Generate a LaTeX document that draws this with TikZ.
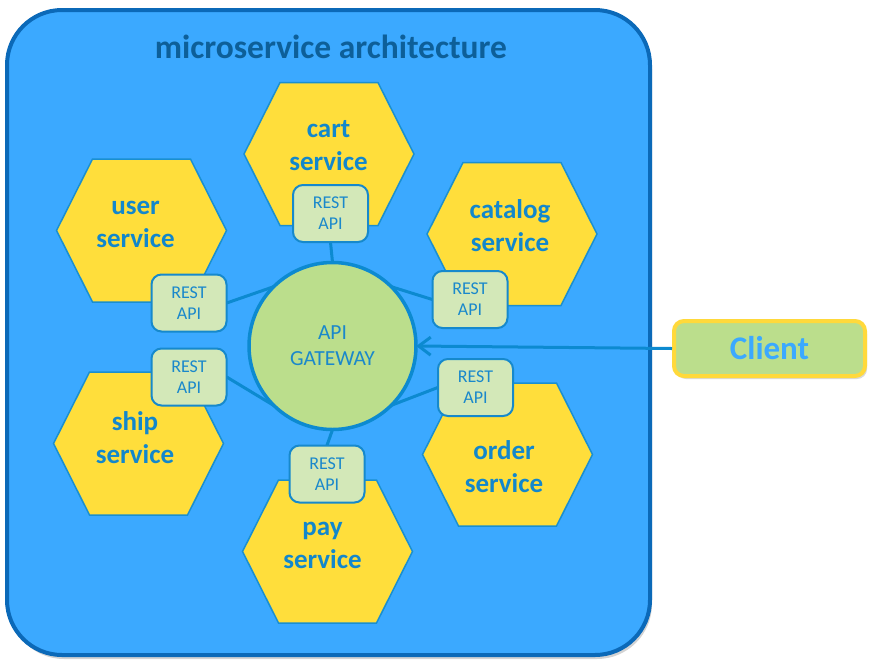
\documentclass[tikz,border=0pt]{standalone}
\usepackage{fontspec}
\setmainfont{Carlito}
\usetikzlibrary{shadows,arrows.meta}
\definecolor{bgblue}{HTML}{3BA9FF}
\definecolor{frameblue}{HTML}{0B69B8}
\definecolor{titleblue}{HTML}{0D5F99}
\definecolor{hexyellow}{HTML}{FFDE3B}
\definecolor{hexline}{HTML}{1A8FD0}
\definecolor{svctext}{HTML}{1287CC}
\definecolor{restfill}{HTML}{D3E8B8}
\definecolor{restline}{HTML}{1689CC}
\definecolor{resttext}{HTML}{1A88CB}
\definecolor{gwfill}{HTML}{BBDE8C}
\definecolor{linkblue}{HTML}{0C8AD0}
\definecolor{clientborder}{HTML}{FFD93B}
\tikzset{
  hexshape/.style={fill=hexyellow, draw=hexline, line width=1.5pt, line join=miter},
  hexa/.pic={\path[hexshape] (-85,0) -- (-49,-71.5) -- (49,-71.5) -- (85,0) -- (49,71.5) -- (-49,71.5) -- cycle;},
  hexlabel/.style={font=\fontsize{27}{33}\selectfont\bfseries, text=svctext, align=center, inner sep=0pt},
  restbox/.style={draw=restline, line width=2pt, fill=restfill, rounded corners=10pt,
    minimum width=75pt, minimum height=57pt, text=resttext,
    font=\fontsize{18}{21}\selectfont, align=center, inner sep=0pt},
  link/.style={draw=linkblue, line width=3pt},
}
\begin{document}
\begin{tikzpicture}[x=1pt,y=-1pt]
\useasboundingbox (0,0) rectangle (876,665);
% outer frame
\path[fill=bgblue, draw=frameblue, line width=4pt, rounded corners=55pt,
  drop shadow={shadow xshift=2pt, shadow yshift=-4pt, opacity=0.35}]
  (7,10) rectangle (650,655);
% title
\node (title) [font=\fontsize{33.5}{40}\selectfont\bfseries, text=titleblue] at (331,47) {microservice architecture};
% hexagons
\pic at (329,154) {hexa};
\pic at (141.5,230.5) {hexa};
\pic at (512,234) {hexa};
\pic at (138.5,443.5) {hexa};
\pic at (507.5,454.5) {hexa};
\pic at (327.5,551.5) {hexa};
% hexagon labels
\node (cartlbl) [hexlabel] at (328.5,146) {cart\\service};
\node (userlbl) [hexlabel] at (135.5,224) {user\\service};
\node (catlbl) [hexlabel] at (510,226) {catalog\\service};
\node (shiplbl) [hexlabel] at (135,437.5) {ship\\service};
\node (orderlbl) [hexlabel] at (504,467) {order\\service};
\node (paylbl) [hexlabel] at (322.5,545.5) {pay\\service};
% gateway anchor node (drawn later)
\node (gw) [circle, minimum size=167pt, inner sep=0pt] at (332.5,346) {};
% REST API box anchors (invisible shapes used for connector ends)
\path (330.5,213.5) coordinate (cartc) (189,303) coordinate (userc) (470,299.5) coordinate (catc)
      (189,377) coordinate (shipc) (475.5,387.5) coordinate (orderc) (327,474) coordinate (payc);
\node (cartapi) [rectangle, minimum width=75pt, minimum height=57pt, inner sep=0pt] at (cartc) {};
\node (userapi) [rectangle, minimum width=75pt, minimum height=57pt, inner sep=0pt] at (userc) {};
\node (catapi) [rectangle, minimum width=75pt, minimum height=57pt, inner sep=0pt] at (catc) {};
\node (shipapi) [rectangle, minimum width=75pt, minimum height=57pt, inner sep=0pt] at (shipc) {};
\node (orderapi) [rectangle, minimum width=75pt, minimum height=57pt, inner sep=0pt] at (orderc) {};
\node (payapi) [rectangle, minimum width=75pt, minimum height=57pt, inner sep=0pt] at (payc) {};
% connectors
\draw[link] (cartapi.south) -- (gw.north);
\draw[link] (userapi.east) -- (gw.135);
\draw[link] (catapi.west) -- (gw.45);
\draw[link] (shipapi.east) -- (gw.225);
\draw[link] (orderapi.west) -- (gw.315);
\draw[link] (payapi.north) -- (gw.south);
% visible boxes on top of connectors
\node (cartbox) [restbox] at (cartc) {REST\\API};
\node (userbox) [restbox] at (userc) {REST\\API};
\node (catbox) [restbox] at (catc) {REST\\API};
\node (shipbox) [restbox] at (shipc) {REST\\API};
\node (orderbox) [restbox] at (orderc) {REST\\API};
\node (paybox) [restbox] at (payc) {REST\\API};
% gateway circle
\node (gwdraw) [circle, minimum size=167pt, inner sep=0pt, fill=gwfill, draw=linkblue, line width=3.5pt,
  text=resttext, font=\fontsize{21.5}{26}\selectfont, align=center] at (gw) {API\\GATEWAY};
% client
\node (client) [draw=clientborder, line width=4pt, fill=gwfill, rounded corners=10pt,
  minimum width=191pt, minimum height=55pt, inner sep=0pt,
  text=bgblue, font=\fontsize{33}{40}\selectfont\bfseries,
  drop shadow={shadow xshift=2pt, shadow yshift=-3pt, opacity=0.3}] at (769.5,348.5) {Client};
\draw[link, -{Straight Barb[length=12pt,width=18pt]}] (client.west) -- (gw.east);
\end{tikzpicture}
\end{document}
